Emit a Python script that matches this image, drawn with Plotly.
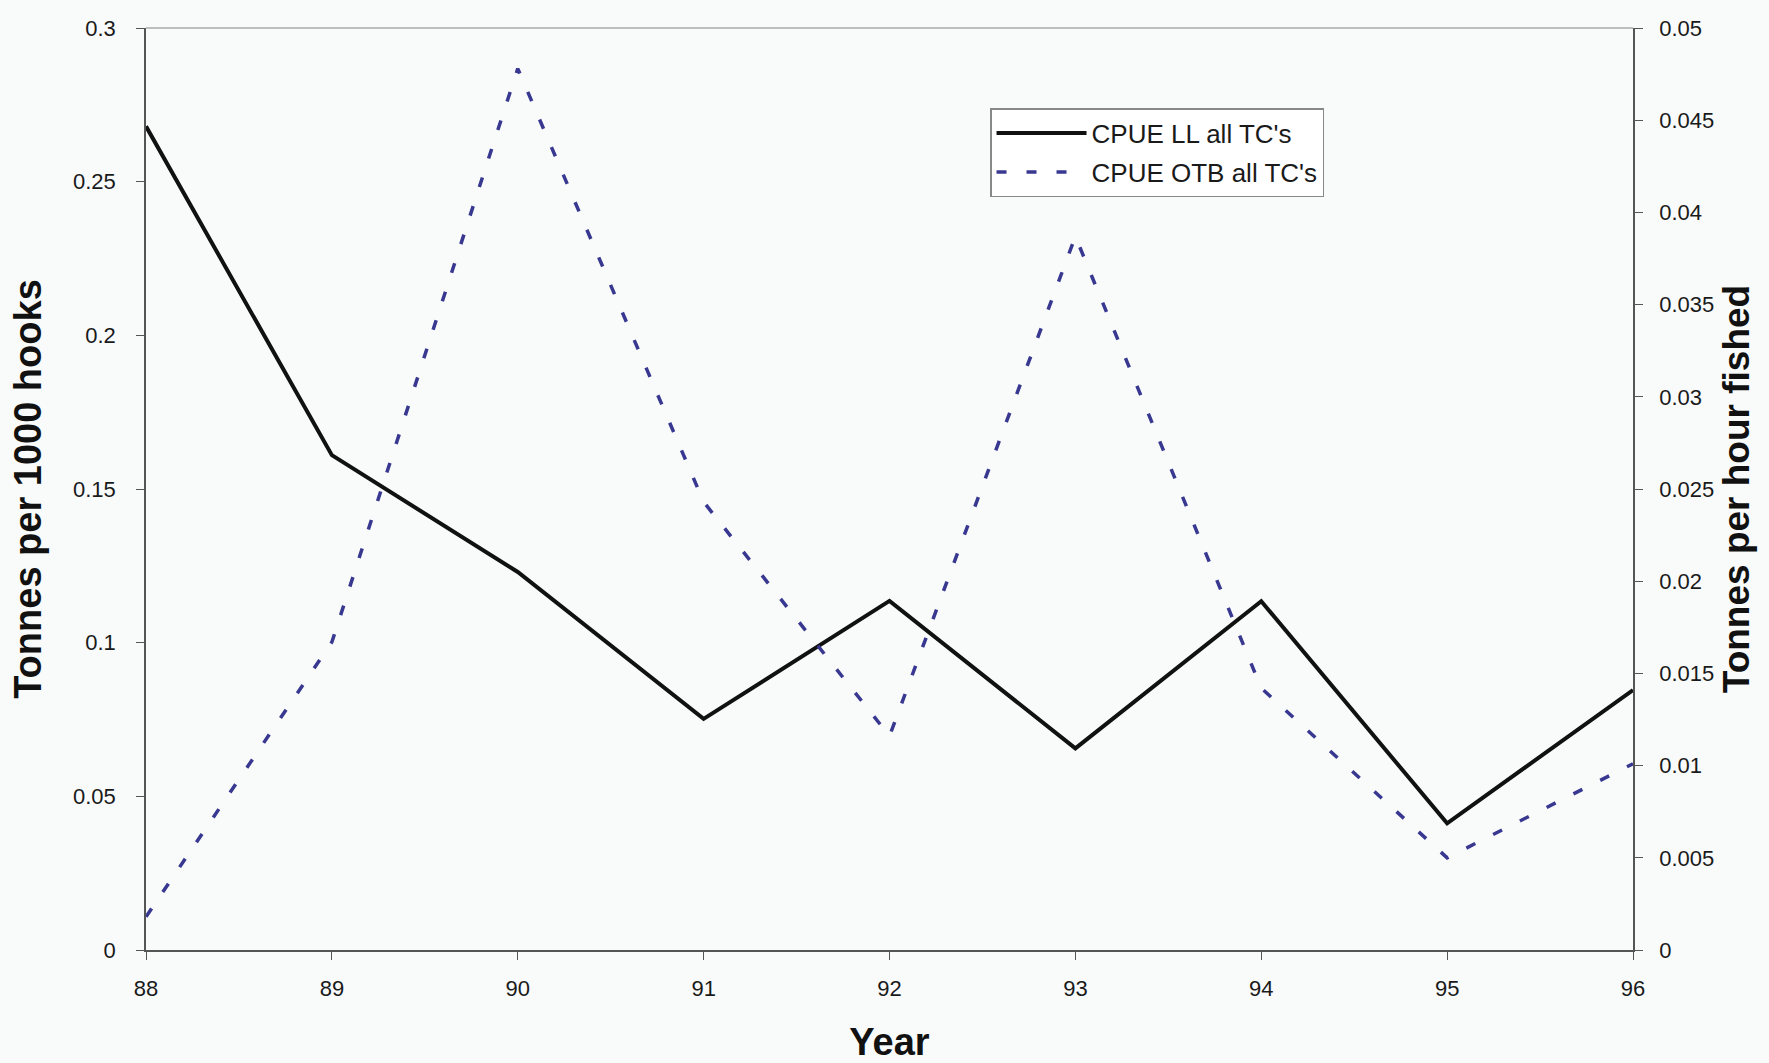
import plotly.graph_objects as go

years = [88, 89, 90, 91, 92, 93, 94, 95, 96]
cpue_ll = [0.268, 0.161, 0.123, 0.0752, 0.1136, 0.0656, 0.1135, 0.0412, 0.0846]
cpue_otb = [0.0018, 0.0167, 0.0478, 0.0243, 0.0116, 0.0387, 0.0142, 0.0050, 0.0101]

left_ticks = [0, 0.05, 0.1, 0.15, 0.2, 0.25, 0.3]
left_labels = ["0", "0.05", "0.1", "0.15", "0.2", "0.25", "0.3"]
right_ticks = [0, 0.005, 0.01, 0.015, 0.02, 0.025, 0.03, 0.035, 0.04, 0.045, 0.05]
right_labels = ["0", "0.005", "0.01", "0.015", "0.02", "0.025", "0.03", "0.035", "0.04", "0.045", "0.05"]

FONT = "Liberation Sans, Arial, sans-serif"
BG = "#f9fbfb"

fig = go.Figure()
fig.add_trace(go.Scatter(
    x=years, y=cpue_ll, mode="lines", name="CPUE LL all TC's",
    line=dict(color="#111111", width=4), legendgroup="a", yaxis="y"))
fig.add_trace(go.Scatter(
    x=years, y=cpue_otb, mode="lines", name="CPUE OTB all TC's",
    line=dict(color="#383890", width=3.5, dash="10px,20px"), legendgroup="b", yaxis="y2"))

fig.update_layout(
    width=1769, height=1063,
    margin=dict(l=146, r=136, t=28, b=113, autoexpand=False),
    paper_bgcolor=BG, plot_bgcolor=BG,
    font=dict(family=FONT, size=22, color="#1a1a1a"),
    showlegend=True,
    legend=dict(
        x=0.5676, y=0.913, xanchor="left", yanchor="top",
        bgcolor="#ffffff", bordercolor="#888888", borderwidth=1.5,
        font=dict(family=FONT, size=26, color="#1a1a1a"),
        traceorder="grouped", tracegroupgap=2, itemwidth=90,
    ),
    xaxis=dict(
        range=[88, 96], tickmode="array", tickvals=years, ticktext=[str(y) for y in years],
        showgrid=False, zeroline=False, showline=True, linecolor="#555555", linewidth=1.5,
        ticks="outside", ticklen=8, tickcolor="#555555", ticklabelstandoff=10,
        title=dict(text="<b>Year</b>", font=dict(family=FONT, size=38, color="#111111"), standoff=34),
        automargin=False,
    ),
    yaxis=dict(
        range=[0, 0.3], tickmode="array", tickvals=left_ticks, ticktext=left_labels,
        showgrid=False, zeroline=False, showline=True, linecolor="#555555", linewidth=1.5,
        ticks="outside", ticklen=8, tickcolor="#555555", ticklabelstandoff=16,
        title=dict(text="<b>Tonnes per 1000 hooks</b>", font=dict(family=FONT, size=38, color="#111111"), standoff=20),
        automargin=False,
    ),
    yaxis2=dict(
        range=[0, 0.05], tickmode="array", tickvals=right_ticks, ticktext=right_labels,
        overlaying="y", side="right",
        showgrid=False, zeroline=False, showline=True, linecolor="#555555", linewidth=1.5,
        ticks="outside", ticklen=8, tickcolor="#555555", ticklabelstandoff=12,
        title=dict(text="<b>Tonnes per hour fished</b>", font=dict(family=FONT, size=37, color="#111111"), standoff=10),
        automargin=False,
    ),
    shapes=[dict(type="line", xref="paper", yref="paper", x0=0, x1=1, y0=1, y1=1,
                 line=dict(color="#aaaaaa", width=1.5))],
)

fig.write_html("out.html")
